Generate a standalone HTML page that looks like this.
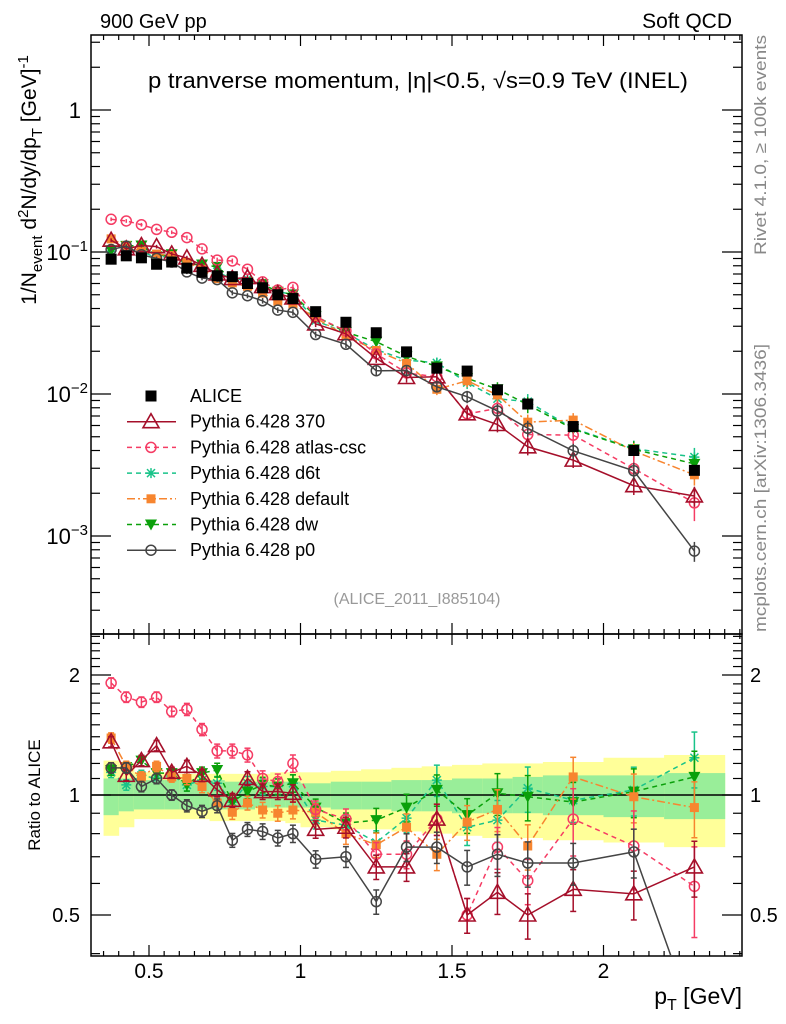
<!DOCTYPE html>
<html><head><meta charset="utf-8"><style>
body{margin:0;background:#fff;}
svg{display:block;font-family:"Liberation Sans",sans-serif;}
</style></head><body>
<svg id="chart" width="786" height="1024" viewBox="0 0 786 1024" xmlns="http://www.w3.org/2000/svg">
<g id="bands"></g>
<g id="grid"></g>
<g id="series"></g>
<g id="labels">
<text x="100" y="28" font-size="20">900 GeV pp</text>
<text x="732" y="28" font-size="21" text-anchor="end">Soft QCD</text>
<text x="418" y="88" font-size="22" text-anchor="middle" textLength="540" lengthAdjust="spacingAndGlyphs">p tranverse momentum, |η|&lt;0.5, √s=0.9 TeV (INEL)</text>
<text transform="translate(36,180) rotate(-90)" font-size="21" text-anchor="middle">1/N<tspan font-size="15" dy="6">event</tspan><tspan dy="-6"> d</tspan><tspan font-size="15" dy="-8">2</tspan><tspan dy="8">N/dy/dp</tspan><tspan font-size="15" dy="6">T</tspan><tspan dy="-6"> [GeV]</tspan><tspan font-size="15" dy="-8">-1</tspan></text>
<text transform="translate(40,795) rotate(-90)" font-size="17" text-anchor="middle">Ratio to ALICE</text>
<text transform="translate(766,145) rotate(-90)" font-size="17" fill="#888" text-anchor="middle" textLength="220" lengthAdjust="spacingAndGlyphs">Rivet 4.1.0, ≥ 100k events</text>
<text transform="translate(766,488) rotate(-90)" font-size="17" fill="#888" text-anchor="middle" textLength="288" lengthAdjust="spacingAndGlyphs">mcplots.cern.ch [arXiv:1306.3436]</text>
<text x="417" y="604" font-size="16" fill="#999" text-anchor="middle">(ALICE_2011_I885104)</text>
<text x="742" y="1004" font-size="23" text-anchor="end">p<tspan font-size="16" dy="6">T</tspan><tspan dy="-6"> [GeV]</tspan></text>
</g>
<g id="legend"></g>
</svg>
<script>
const pT = [0.375,0.425,0.475,0.525,0.575,0.625,0.675,0.725,0.775,0.825,0.875,0.925,0.975,1.05,1.15,1.25,1.35,1.45,1.55,1.65,1.75,1.9,2.1,2.3];
const binLo = [0.35,0.4,0.45,0.5,0.55,0.6,0.65,0.7,0.75,0.8,0.85,0.9,0.95,1.0,1.1,1.2,1.3,1.4,1.5,1.6,1.7,1.8,2.0,2.2];
const binHi = [0.4,0.45,0.5,0.55,0.6,0.65,0.7,0.75,0.8,0.85,0.9,0.95,1.0,1.1,1.2,1.3,1.4,1.5,1.6,1.7,1.8,2.0,2.2,2.4];
const alice = [0.089,0.094,0.091,0.082,0.085,0.077,0.072,0.068,0.067,0.060,0.056,0.050,0.047,0.038,0.032,0.027,0.0198,0.0152,0.0145,0.0107,0.0085,0.0059,0.0040,0.0029];
const ratio370 = [1.36,1.12,1.22,1.33,1.14,1.18,1.12,1.03,0.97,1.10,1.02,1.02,1.01,0.82,0.83,0.66,0.66,0.87,0.50,0.57,0.50,0.58,0.565,0.66];
const ratioAtlas = [1.91,1.76,1.71,1.76,1.62,1.64,1.46,1.29,1.29,1.26,1.10,1.08,1.20,0.92,0.87,0.71,0.71,0.87,0.50,0.74,0.61,0.87,0.745,0.59];
const ratioD6t = [1.14,1.06,1.12,1.10,1.12,1.06,1.09,1.07,0.96,1.07,1.05,1.05,1.07,0.865,0.84,0.76,0.875,1.09,0.83,0.865,1.04,0.97,1.03,1.24];
const ratioDefault = [1.39,1.18,1.11,1.18,1.11,1.10,1.05,0.955,0.905,0.955,0.917,0.90,0.917,0.905,0.80,0.75,0.83,0.71,0.855,0.92,0.745,1.11,0.99,0.93];
const ratioDw = [1.155,1.175,1.22,1.135,1.135,1.06,1.135,1.155,0.96,1.02,1.06,1.05,1.07,0.93,0.85,0.865,0.93,1.03,0.89,1.01,0.99,0.96,1.02,1.11];
const ratioP0 = [1.17,1.17,1.05,1.10,1.0,0.94,0.91,0.94,0.77,0.82,0.81,0.78,0.80,0.69,0.70,0.54,0.74,0.74,0.66,0.71,0.675,0.675,0.72,0.27];
const mcErr = [0.03,0.03,0.03,0.03,0.03,0.035,0.035,0.04,0.04,0.04,0.045,0.045,0.05,0.05,0.06,0.07,0.08,0.09,0.10,0.12,0.13,0.12,0.14,0.16];
const yellowHi = [1.22,1.20,1.14,1.14,1.13,1.13,1.13,1.13,1.13,1.13,1.13,1.14,1.14,1.14,1.15,1.16,1.17,1.18,1.19,1.20,1.20,1.21,1.24,1.26];
const yellowLo = [0.79,0.83,0.87,0.87,0.87,0.87,0.87,0.86,0.86,0.86,0.86,0.86,0.85,0.83,0.82,0.82,0.81,0.80,0.79,0.78,0.78,0.77,0.76,0.74];
const greenHi = [1.10,1.10,1.09,1.09,1.09,1.09,1.09,1.09,1.08,1.08,1.08,1.08,1.08,1.07,1.08,1.08,1.09,1.09,1.10,1.10,1.11,1.12,1.12,1.135];
const greenLo = [0.89,0.91,0.92,0.92,0.92,0.92,0.92,0.92,0.92,0.92,0.93,0.93,0.93,0.93,0.92,0.92,0.91,0.91,0.90,0.90,0.90,0.89,0.88,0.87];
const seriesNames = ["Pythia 6.428 370","Pythia 6.428 atlas-csc","Pythia 6.428 d6t","Pythia 6.428 default","Pythia 6.428 dw","Pythia 6.428 p0"];
const xTickLabels = ["0.5","1","1.5","2"];
const xTickValues = [0.5,1,1.5,2];
const yTickValues = [1,0.1,0.01,0.001];
const ratioTickValues = [2,1,0.5];
const ratioTickLabels = ["2","1","0.5"];

const L=91,R=742,T=35,MB=634,RB=956;
const NS="http://www.w3.org/2000/svg";
function X(v){return 149+(v-0.5)*303;}
function Y(v){return 110-Math.log10(v)*142;}
function RY(v){return 795-Math.log2(v)*120;}
function mk(p,tag,a){const e=document.createElementNS(NS,tag);for(const k in a)e.setAttribute(k,a[k]);p.appendChild(e);return e;}
const gB=document.getElementById('bands'),gG=document.getElementById('grid'),gS=document.getElementById('series'),gL=document.getElementById('legend');

const defs=mk(document.getElementById('chart'),'defs',{});
const c1=mk(defs,'clipPath',{id:'cm'});mk(c1,'rect',{x:L,y:T,width:R-L,height:MB-T});
const c2=mk(defs,'clipPath',{id:'cr'});mk(c2,'rect',{x:L,y:MB,width:R-L,height:RB-MB});

for(let i=0;i<pT.length;i++){
  const y1=mk(gB,'rect',{x:X(binLo[i]),y:RY(yellowHi[i]),width:X(binHi[i])-X(binLo[i])+0.5,height:RY(yellowLo[i])-RY(yellowHi[i]),fill:'#ffff99'});
  
  
  const g1=mk(gB,'rect',{x:X(binLo[i]),y:RY(greenHi[i]),width:X(binHi[i])-X(binLo[i])+0.5,height:RY(greenLo[i])-RY(greenHi[i]),fill:'#99ee99'});
  
  
}
mk(gB,'line',{x1:L,x2:R,y1:RY(1),y2:RY(1),stroke:'#000','stroke-width':1.5});

mk(gG,'rect',{x:L,y:T,width:R-L,height:MB-T,fill:'none',stroke:'#000','stroke-width':1.5});
mk(gG,'rect',{x:L,y:MB,width:R-L,height:RB-MB,fill:'none',stroke:'#000','stroke-width':1.5});
for(let k=7;k<=49;k++){const v=k/20;const x=X(v);if(x<=L||x>=R)continue;const maj=(k%10==0);const len=maj?11:5;
  [[T,1],[MB,-1],[MB,1],[RB,-1]].forEach(([y,d])=>mk(gG,'line',{x1:x,x2:x,y1:y,y2:y+d*len,stroke:'#000','stroke-width':1.2}));}
xTickValues.forEach((v,i)=>{const t=mk(gG,'text',{x:X(v),y:978,'font-size':21,'text-anchor':'middle'});t.textContent=xTickLabels[i];
  
  });
for(let e=-4;e<=1;e++){for(let m=1;m<10;m++){const v=m*Math.pow(10,e);const y=Y(v);if(y<T||y>MB)continue;const len=m==1?20:9;
  mk(gG,'line',{x1:L,x2:L+len,y1:y,y2:y,stroke:'#000','stroke-width':1.2});mk(gG,'line',{x1:R,x2:R-len,y1:y,y2:y,stroke:'#000','stroke-width':1.2});}}
yTickValues.forEach(v=>{const e=Math.round(Math.log10(v));const t=mk(gG,'text',{x:e==0?81:88,y:Y(v)+8,'font-size':22,'text-anchor':'end'});
  
  
  if(e==0)t.textContent='1';else{t.textContent='10';const s=mk(t,'tspan',{dy:-9,'font-size':15});s.textContent='\u2212'+(-e);}});
for(let k=4;k<=25;k++){const v=k/10;const y=RY(v);if(y<MB||y>RB)continue;const maj=(v==0.5||v==1||v==2);const len=maj?20:9;
  mk(gG,'line',{x1:L,x2:L+len,y1:y,y2:y,stroke:'#000','stroke-width':1.2});mk(gG,'line',{x1:R,x2:R-len,y1:y,y2:y,stroke:'#000','stroke-width':1.2});}
ratioTickValues.forEach((v,i)=>{[[80,'end'],[750,'start']].forEach(([x,a])=>{const t=mk(gG,'text',{x:x,y:RY(v)+7,'font-size':20,'text-anchor':a});t.textContent=ratioTickLabels[i];
  
  });});

function marker(g,type,x,y,col){
  const s=5.5;
  if(type=='square')return mk(g,'rect',{x:x-s,y:y-s,width:2*s,height:2*s,fill:col});
  if(type=='fsquare')return mk(g,'rect',{x:x-4.5,y:y-4.5,width:9,height:9,fill:col});
  if(type=='circle')return mk(g,'circle',{cx:x,cy:y,r:5,fill:'#fff','fill-opacity':0,stroke:col,'stroke-width':1.5});
  if(type=='tri')return mk(g,'polygon',{points:`${x},${y-8} ${x-8},${y+6} ${x+8},${y+6}`,fill:'none',stroke:col,'stroke-width':1.6});
  if(type=='dtri')return mk(g,'polygon',{points:`${x-6},${y-5} ${x+6},${y-5} ${x},${y+6}`,fill:col});
  if(type=='star'){const p=mk(g,'path',{d:`M${x-5} ${y}H${x+5}M${x} ${y-5}V${y+5}M${x-4} ${y-4}L${x+4} ${y+4}M${x-4} ${y+4}L${x+4} ${y-4}`,stroke:col,'stroke-width':1.5});return p;}
}
const defsS=[
 {name:seriesNames[0],r:ratio370,col:'#a50f2a',dash:'',type:'tri'},
 {name:seriesNames[1],r:ratioAtlas,col:'#f53c64',dash:'5,4',type:'circle'},
 {name:seriesNames[2],r:ratioD6t,col:'#19c389',dash:'5,4',type:'star'},
 {name:seriesNames[3],r:ratioDefault,col:'#f7852f',dash:'8,3,2,3',type:'fsquare'},
 {name:seriesNames[4],r:ratioDw,col:'#0aa00a',dash:'5,4',type:'dtri'},
 {name:seriesNames[5],r:ratioP0,col:'#444444',dash:'',type:'circle'}];
const slugs=['370','atlas-csc','d6t','default','dw','p0'];
const order=[2,4,3,1,0,5];
const ga=mk(gS,'g',{});


order.forEach(si=>{
  const s=defsS[si];
  const gm=mk(gS,'g',{'clip-path':'url(#cm)'});
  
  
  const gr=mk(gS,'g',{'clip-path':'url(#cr)'});
  
  
  const vals=alice.map((a,i)=>a*s.r[i]);
  mk(gm,'polyline',{points:vals.map((v,i)=>X(pT[i])+','+Y(v)).join(' '),fill:'none',stroke:s.col,'stroke-width':1.5,'stroke-dasharray':s.dash});
  mk(gr,'polyline',{points:s.r.map((v,i)=>X(pT[i])+','+RY(v)).join(' '),fill:'none',stroke:s.col,'stroke-width':1.5,'stroke-dasharray':s.dash});
  vals.forEach((v,i)=>{
    const x=X(pT[i]);const e=mcErr[i]*(si==1&&i>20?1.6:1);
    mk(gm,'line',{x1:x,x2:x,y1:Y(v*(1+e)),y2:Y(v*(1-e)),stroke:s.col,'stroke-width':1.5});
    const m1=marker(gm,s.type,x,Y(v),s.col);
    
    
    const r=s.r[i];
    mk(gr,'line',{x1:x,x2:x,y1:RY(r*(1+e)),y2:RY(r*(1-e)),stroke:s.col,'stroke-width':1.5});
    mk(gr,'line',{x1:x-3,x2:x+3,y1:RY(r*(1+e)),y2:RY(r*(1+e)),stroke:s.col,'stroke-width':1.5});
    mk(gr,'line',{x1:x-3,x2:x+3,y1:RY(r*(1-e)),y2:RY(r*(1-e)),stroke:s.col,'stroke-width':1.5});
    const m2=marker(gr,s.type,x,RY(r),s.col);
    
    
  });
});
alice.forEach((v,i)=>{
  const m=marker(ga,'square',X(pT[i]),Y(v),'#000');
  
  
});
gS.appendChild(ga);

const lg=[{name:'ALICE',type:'square',col:'#000',dash:null}].concat(defsS);
lg.forEach((s,i)=>{
  const y=396+i*25.7;
  const g=mk(gL,'g',{});
  
  
  if(s.dash!==null)mk(g,'line',{x1:127,x2:176,y1:y,y2:y,stroke:s.col,'stroke-width':1.5,'stroke-dasharray':s.dash});
  marker(g,s.type,151,y,s.col);
  const t=mk(g,'text',{x:190,y:y+6,'font-size':18});t.textContent=s.name;
});
</script>
</body></html>
